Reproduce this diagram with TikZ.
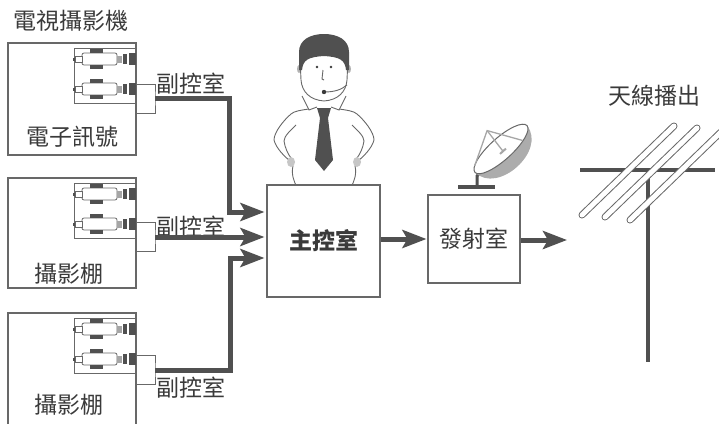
\documentclass[tikz,border=0pt]{standalone}
\usepackage{fontspec}
\setmainfont{Noto Sans CJK TC}
\usetikzlibrary{arrows.meta,calc}

\definecolor{inkgray}{HTML}{3A3A3A}
\definecolor{linegray}{HTML}{686868}
\definecolor{feedgray}{HTML}{505050}

\begin{document}
\begin{tikzpicture}[
        x=1pt, y=-1pt,
        every node/.style={font=\fontsize{23}{26}\selectfont, text=inkgray, inner sep=0pt},
        studio/.style={draw=linegray, line width=1.1pt, minimum width=128pt, minimum height=#1},
        panel/.style={draw=linegray, line width=1pt, minimum width=62pt, minimum height=55pt},
        room/.style={draw=linegray, line width=1.1pt, fill=white},
        lead/.style={draw=linegray, line width=1pt},
        feed/.style={draw=feedgray, line width=5pt, -{Stealth[length=24pt, width=18pt, inset=5pt]}},
        rod/.style={line cap=round},
        camunit/.pic={
            \draw[linegray, line width=.8pt, fill=white, rounded corners=2pt] (-54,-6) rectangle (-19,6);
            \fill[feedgray] (-46,-10) rectangle (-33,-6);
            \fill[feedgray] (-46,6) rectangle (-33,10);
            \draw[linegray, line width=.8pt, fill=white] (-61,-3) rectangle (-54,3);
            \fill[feedgray] (-63,-1.5) rectangle (-61,1.5);
            \fill[gray!70] (-19,-3.5) rectangle (-14,3.5);
            \fill[feedgray] (-13,-5) rectangle (-9,5);
            \fill[feedgray] (-7,-6) rectangle (0,6);
        }
        ]

    \useasboundingbox (0,0) rectangle (719,423);
    \clip (0,0) rectangle (719,423);

    % studios with their camera panels
    \node (title) at (71,21) {電視攝影機};
    \node[studio=112pt] (cam1) at (72,99) {};
    \node[studio=110pt] (cam2) at (72,233) {};
    \node[studio=130pt] (cam3) at (72,378) {};
    \node (sig) at (72,137) {電子訊號};
    \node (hall2) at (69,274) {攝影棚};
    \node (hall3) at (69,405) {攝影棚};

    \node[panel] (pan1) at (105,75.5) {};
    \node[panel] (pan2) at (105,210.5) {};
    \node[panel] (pan3) at (105,345.5) {};
    \foreach \t in {48,183,318} {
        \pic at (136,\t+11) {camunit};
        \pic at (136,\t+41) {camunit};
    }

    % sub control rooms
    \coordinate (sub1) at (155,98);
    \coordinate (sub2) at (155,237);
    \coordinate (sub3) at (155,370);
    \draw[lead] (cam1.east |- 0,84) -| (sub1) |- (cam1.east |- 0,113);
    \draw[lead] (cam2.east |- 0,222) -| (sub2) |- (cam2.east |- 0,251);
    \draw[lead] (cam3.east |- 0,355) -| (sub3) |- (cam3.east |- 0,384);
    \node (subl1) at (191,84) {副控室};
    \node (subl2) at (191,227) {副控室};
    \node (subl3) at (191,388) {副控室};

    % operator
    \begin{scope}[draw=linegray, line width=.9pt]
        \foreach \s in {1,-1} {
            \begin{scope}[shift={(324,0)}, xscale=\s]
                \draw (-15,109) .. controls (-22,110) and (-30,111) .. (-33,114)
                      .. controls (-40,120) and (-50,132) .. (-50,140)
                      .. controls (-48,148) and (-40,156) .. (-34,161);
                \draw (-28,125) .. controls (-33,130) and (-40,136) .. (-40,141)
                      .. controls (-39,148) and (-36,154) .. (-33,158);
                \draw (-31,166) .. controls (-33,174) and (-30,182) .. (-27,187);
                \fill[gray!45] (-33,162) ellipse (4 and 5);
                \draw[fill=white] (-22,96) -- (-15,110) -- (-7,107);
                \fill[gray!60] (-25,69) ellipse (2 and 4);
                \draw (-11,60) -- (-5,60);
            \end{scope}
        }
        \draw[fill=white] (300,58) -- (301,80) .. controls (302,92) and (310,100) .. (324,101)
              .. controls (338,100) and (346,92) .. (347,80) -- (348,58);
        \fill[feedgray] (299,70) -- (299,52) .. controls (299,40) and (310,34) .. (324,34)
              .. controls (338,34) and (349,40) .. (349,52) -- (349,70) -- (346,70)
              .. controls (345,60) and (340,57) .. (324,56)
              .. controls (308,57) and (303,60) .. (302,70) -- cycle;
        \fill[inkgray] (317,67) circle (1.4) (331,67) circle (1.4);
        \draw (323,70) -- (322,79) -- (324,80);
        \draw (324,92) .. controls (334,92) and (341,90) .. (347,85);
        \fill[inkgray] (324,92) circle (2.2);
        \fill[feedgray] (317,108) -- (331,108) -- (328,118) -- (320,118) -- cycle;
        \fill[feedgray] (320,118) -- (315,160) -- (324,171) -- (333,160) -- (328,118) -- cycle;
    \end{scope}

    % main control and transmitter
    \node[room, minimum width=113pt, minimum height=112pt, font=\fontsize{23}{26}\selectfont\bfseries] (main) at (323.5,241) {主控室};
    \node[room, minimum width=92pt, minimum height=88pt] (tx) at (474,239) {發射室};

    \coordinate (turn1) at (229,212);
    \coordinate (turn3) at (230,258);
    \draw[feed, shorten >=2pt] (sub1) -| (turn1) -- (main.west |- turn1);
    \draw[feed, shorten >=2pt] (sub2) -- (main.west |- sub2);
    \draw[feed, shorten >=2pt] (sub3) -| (turn3) -- (main.west |- turn3);
    \draw[feed, shorten >=1pt] (main.east |- tx.west) -- (tx.west);
    \coordinate (air) at (567,240);
    \draw[feed] (tx.east |- air) -- (air);

    % dish on the transmitter roof
    \draw[feedgray, line width=4pt] (458,187) -- (495,187);
    \draw[feedgray, line width=3pt] (477,187) -- (477,176) -- (487,164);
    \begin{scope}[shift={(501,149)}, rotate=42]
        \fill[gray!65] (-35,0) .. controls (-33,32) and (33,32) .. (35,0) -- cycle;
        \draw[linegray, line width=1pt, fill=white] (0,0) ellipse (35 and 11);
        \draw[gray!70, line width=1.3pt] (-31,-5) -- (2,-23) -- (22,8.5);
        \draw[gray!70, line width=1.3pt] (2,-23) -- (0,3);
        \draw[gray!70, line width=2pt] (-4,3) -- (4,3);
    \end{scope}

    % antenna
    \node (ant) at (654,96) {天線播出};
    \draw[feedgray, line width=4.5pt] (580,170) -- (715,170);
    \draw[feedgray, line width=4pt] (648,170) -- (648,362);
    \foreach \a/\b in {582/215, 605/217, 630/220} {
        \draw[rod, linegray, line width=7pt] (\a,\b) -- ++(92,-89);
        \draw[rod, white, line width=5pt] (\a,\b) -- ++(92,-89);
    }

\end{tikzpicture}
\end{document}
